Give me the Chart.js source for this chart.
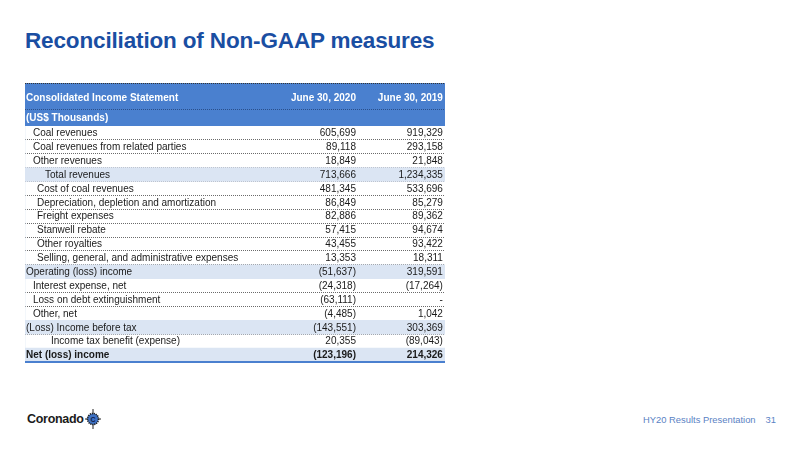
<!DOCTYPE html>
<html>
<head>
<meta charset="utf-8">
<script src="https://cdn.jsdelivr.net/npm/chart.js@4.4.1/dist/chart.umd.min.js"></script>
<style>
  body { margin: 0; background: #fff; font-family: "Liberation Sans", Arial, sans-serif; }
  #page { position: relative; width: 800px; height: 450px; overflow: hidden; }
  #title { position: absolute; left: 25px; top: 28px; font-size: 22.5px; font-weight: bold; color: #1a4ea2; letter-spacing: -0.15px; }
  #tbl { position: absolute; left: 25px; top: 82px; }
  #footer { position: absolute; left: 643px; top: 414px; font-size: 9.4px; color: #5a82c4; }
  #footer span { margin-left: 10px; }
  #logo { position: absolute; left: 27px; top: 412px; font-size: 12.5px; font-weight: bold; color: #1b1b1b; letter-spacing: -0.3px; }
  #logo svg { position: absolute; left: 58px; top: -3px; }
</style>
</head>
<body>
<div id="page">
  <div id="title">Reconciliation of Non-GAAP measures</div>
  <canvas id="tbl" width="420" height="282"></canvas>
  <div id="logo">Coronado<svg width="16" height="20" viewBox="0 0 16 20">
    <line x1="8" y1="0" x2="8" y2="20" stroke="#222" stroke-width="1"/>
    <line x1="0" y1="10" x2="16" y2="10" stroke="#222" stroke-width="1"/>
    <circle cx="8" cy="10" r="5.5" fill="#3f72c4" stroke="#1b1b1b" stroke-width="1.6" stroke-dasharray="1.2 0.8"/>
    <text x="8" y="12.6" font-size="7" font-weight="bold" text-anchor="middle" fill="#10204a" font-family="Liberation Sans">C</text>
  </svg></div>
  <div id="footer">HY20 Results Presentation<span>31</span></div>
</div>
<script>
var headerLabels = ['Consolidated Income Statement', 'June 30, 2020', 'June 30, 2019'];
var unitLabel = '(US$ Thousands)';

var rowLabels = [
    'Coal revenues',
    'Coal revenues from related parties',
    'Other revenues',
    'Total revenues',
    'Cost of coal revenues',
    'Depreciation, depletion and amortization',
    'Freight expenses',
    'Stanwell rebate',
    'Other royalties',
    'Selling, general, and administrative expenses',
    'Operating (loss) income',
    'Interest expense, net',
    'Loss on debt extinguishment',
    'Other, net',
    '(Loss) Income before tax',
    'Income tax benefit (expense)',
    'Net (loss) income'
];

var values2020 = [605699, 89118, 18849, 713666, 481345, 86849, 82886, 57415, 43455, 13353,
    -51637, -24318, -63111, -4485, -143551, 20355, -123196];
var values2019 = [919329, 293158, 21848, 1234335, 533696, 85279, 89362, 94674, 93422, 18311,
    319591, -17264, null, 1042, 303369, -89043, 214326];

// styling per row
var rowIndent = [7, 7, 7, 19, 11, 11, 11, 11, 11, 11, 0, 7, 7, 7, 0, 25, 0];
var highlightRows = [3, 10, 14, 16];
var boldRows = [16];

// right edges of the value columns, in x-scale units (0..1 = table width)
var colRight = [0.788, 0.995];

var headerBlue = '#4a80cf';
var bandBlue = '#dbe5f3';
var FONT = '"Liberation Sans", Arial, sans-serif';

function fmt(v) {
    if (v === null) return '-';
    var s = Math.abs(v).toLocaleString('en-US');
    return v < 0 ? '(' + s + ')' : s;
}

var tablePlugin = {
    id: 'tablePlugin',
    beforeDatasetsDraw: function (chart) {
        var ctx = chart.ctx;
        var area = chart.chartArea;
        var top = area.top - 43;
        var mid = area.top - 17;
        ctx.save();
        ctx.fillStyle = headerBlue;
        ctx.fillRect(area.left, top, area.right - area.left, area.top - top);
        ctx.setLineDash([1, 1]);
        ctx.lineWidth = 1;
        ctx.strokeStyle = '#333';
        ctx.beginPath();
        ctx.moveTo(area.left, top + 0.5);
        ctx.lineTo(area.right, top + 0.5);
        ctx.stroke();
        ctx.strokeStyle = '#2a4f8a';
        ctx.beginPath();
        ctx.moveTo(area.left, mid + 0.5);
        ctx.lineTo(area.right, mid + 0.5);
        ctx.stroke();
        ctx.restore();
    },
    afterDatasetsDraw: function (chart) {
        var ctx = chart.ctx;
        var area = chart.chartArea;
        var xs = chart.scales.x;
        var ys = chart.scales.y;
        ctx.save();
        ctx.textBaseline = 'middle';

        // header text
        ctx.fillStyle = '#ffffff';
        ctx.font = 'bold 10px ' + FONT;
        ctx.textAlign = 'left';
        var hy = area.top - 28;
        ctx.fillText(headerLabels[0], area.left + 1, hy);
        ctx.fillText(unitLabel, area.left + 1, area.top - 7.5);
        ctx.textAlign = 'right';
        ctx.fillText(headerLabels[1], xs.getPixelForValue(colRight[0]), hy);
        ctx.fillText(headerLabels[2], xs.getPixelForValue(colRight[1]), hy);

        // body rows
        ctx.fillStyle = '#1a1a1a';
        rowLabels.forEach(function (label, i) {
            var y = ys.getPixelForValue(i) + 0.5;
            var bold = boldRows.indexOf(i) >= 0;
            ctx.font = (bold ? 'bold ' : '') + '10px ' + FONT;
            ctx.textAlign = 'left';
            ctx.fillText(label, area.left + 1 + rowIndent[i], y);
            ctx.textAlign = 'right';
            ctx.fillText(fmt(values2020[i]), xs.getPixelForValue(colRight[0]), y);
            ctx.fillText(fmt(values2019[i]), xs.getPixelForValue(colRight[1]), y);
        });

        // closing rule
        ctx.strokeStyle = headerBlue;
        ctx.lineWidth = 2;
        ctx.beginPath();
        ctx.moveTo(area.left, area.bottom);
        ctx.lineTo(area.right, area.bottom);
        ctx.stroke();
        ctx.restore();
    }
};

document.addEventListener("DOMContentLoaded", function () {
    var ctx = document.getElementById('tbl').getContext('2d');
    var bandData = rowLabels.map(function (l, i) {
        return highlightRows.indexOf(i) >= 0 ? 1 : 0;
    });

    new Chart(ctx, {
        type: 'bar',
        data: {
            labels: rowLabels,
            datasets: [{
                label: 'rows',
                data: bandData,
                backgroundColor: bandBlue,
                borderWidth: 0,
                barPercentage: 1,
                categoryPercentage: 1
            }]
        },
        options: {
            indexAxis: 'y',
            responsive: false,
            animation: false,
            devicePixelRatio: 1,
            layout: { padding: { top: 44, bottom: 2, left: 0, right: 0 } },
            plugins: {
                legend: { display: false },
                tooltip: { enabled: false }
            },
            scales: {
                x: { display: false, min: 0, max: 1 },
                y: {
                    display: true,
                    ticks: { display: false, padding: 0 },
                    grid: {
                        offset: true,
                        drawTicks: false,
                        color: '#6a6a6a',
                        lineWidth: 1
                    },
                    border: { display: false, dash: [1, 1] }
                }
            }
        },
        plugins: [tablePlugin]
    });
});
</script>
</body>
</html>
